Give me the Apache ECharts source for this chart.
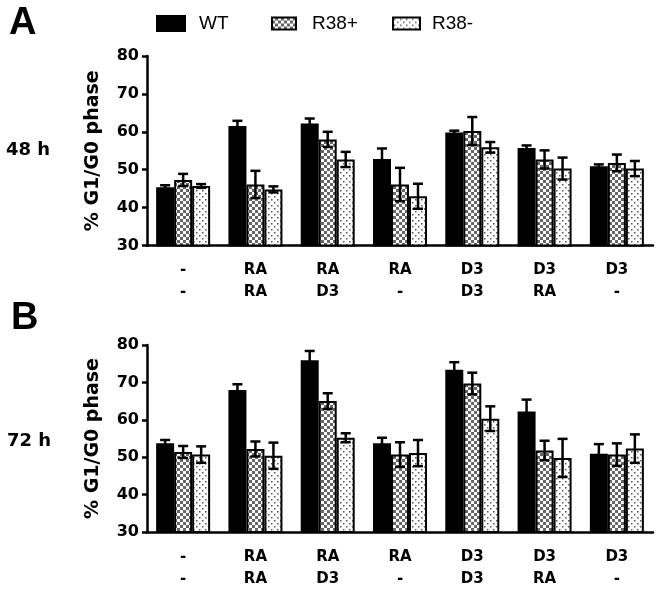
<!DOCTYPE html>
<html><head><meta charset="utf-8">
<script src="https://cdn.jsdelivr.net/npm/echarts@6/dist/echarts.min.js"></script>
<style>html,body{margin:0;padding:0;background:#fff}#c{width:662px;height:590px}</style>
</head><body><div id="c"></div>
<script>
// ---- data ----
const seriesNames = ['WT', 'R38+', 'R38-'];
const catTop = ['-', 'RA', 'RA', 'RA', 'D3', 'D3', 'D3'];
const catBottom = ['-', 'RA', 'D3', '-', 'D3', 'RA', '-'];
const yTicks = [30, 40, 50, 60, 70, 80];

const wt48 = [45.4, 61.5, 62.2, 52.8, 59.8, 55.7, 50.9];
const wt48Err = [0.5, 1.4, 1.3, 2.8, 0.5, 0.7, 0.5];
const p48 = [47.3, 46.1, 58.0, 46.1, 60.2, 52.7, 51.8];
const p48Err = [1.6, 3.6, 2.0, 4.4, 3.7, 2.4, 2.2];
const m48 = [45.7, 44.8, 52.7, 43.0, 55.9, 50.3, 50.3];
const m48Err = [0.5, 0.8, 2.0, 3.3, 1.4, 2.9, 2.0];

const wt72 = [53.7, 68.0, 75.9, 53.7, 73.4, 62.2, 50.9];
const wt72Err = [0.9, 1.5, 2.5, 1.5, 2.0, 3.2, 2.6];
const p72 = [51.4, 52.2, 65.0, 50.7, 69.7, 51.8, 50.7];
const p72Err = [1.6, 2.0, 2.1, 3.3, 2.9, 2.6, 3.0];
const m72 = [50.7, 50.4, 55.2, 51.1, 60.3, 49.8, 52.3];
const m72Err = [2.2, 3.5, 1.2, 3.5, 3.3, 5.1, 3.8];

// ---- patterns ----
function checkerCanvas() {
  const c = document.createElement('canvas'); c.width = 6; c.height = 6;
  const g = c.getContext('2d');
  g.fillStyle = '#666666'; g.fillRect(0, 0, 6, 6);
  g.fillStyle = '#ffffff'; g.fillRect(0, 0, 3, 3); g.fillRect(3, 3, 3, 3);
  return c;
}
function dotCanvas() {
  const c = document.createElement('canvas'); c.width = 6; c.height = 6;
  const g = c.getContext('2d');
  g.fillStyle = '#ffffff'; g.fillRect(0, 0, 6, 6);
  g.fillStyle = '#555555';
  g.fillRect(1, 1, 1.5, 1.5); g.fillRect(4, 4, 1.5, 1.5);
  return c;
}
const fills = ['#000000', {image: checkerCanvas(), repeat: 'repeat'}, {image: dotCanvas(), repeat: 'repeat'}];

const BW = 18;
const offsets = [-BW, 0, BW];
const catLabels = catTop.map((t, i) => t + '\n' + catBottom[i]);

const grids = [
  {left: 147, right: 9, top: 56, height: 189.5},
  {left: 147, right: 9, top: 345, height: 190.5}
];
const panels = [
  [[wt48, wt48Err], [p48, p48Err], [m48, m48Err]],
  [[wt72, wt72Err], [p72, p72Err], [m72, m72Err]]
];

const tickFont = {fontFamily: 'DejaVu Sans', fontWeight: 'bold', fontSize: 16, color: '#000'};

const xAxes = grids.map((g, gi) => ({
  type: 'category', gridIndex: gi, data: catLabels,
  axisLine: {lineStyle: {color: '#000', width: 2.5}},
  axisTick: {alignWithLabel: true, length: 6, lineStyle: {color: '#000', width: 2.5}},
  axisLabel: {interval: 0, margin: 14, lineHeight: 22, fontSize: 15, fontFamily: 'DejaVu Sans', fontWeight: 'bold', color: '#000'}
}));
const yAxes = grids.map((g, gi) => ({
  type: 'value', gridIndex: gi, min: yTicks[0], max: yTicks[yTicks.length - 1], interval: 10,
  name: '% G1/G0 phase', nameLocation: 'middle', nameGap: 44,
  nameTextStyle: {fontFamily: 'DejaVu Sans', fontWeight: 'bold', fontSize: 19, color: '#000'},
  axisLine: {show: true, lineStyle: {color: '#000', width: 2.5}},
  axisTick: {show: true, length: 5, lineStyle: {color: '#000', width: 2.5}},
  splitLine: {show: false},
  axisLabel: Object.assign({margin: 8}, tickFont)
}));

const series = [];
panels.forEach((panel, gi) => {
  panel.forEach(([vals, errs], si) => {
    series.push({
      type: 'bar', name: seriesNames[si], xAxisIndex: gi, yAxisIndex: gi,
      data: vals, barWidth: BW, barGap: '0%',
      itemStyle: {color: fills[si], borderColor: '#000', borderWidth: 2},
      emphasis: {disabled: true}, animation: false
    });
  });
  panel.forEach(([vals, errs], si) => {
    series.push({
      type: 'custom', xAxisIndex: gi, yAxisIndex: gi, z: 5, animation: false,
      data: vals.map((v, i) => [i, v, errs[i]]),
      encode: {x: 0, y: 1},
      renderItem: function (params, api) {
        const i = api.value(0), v = api.value(1), e = api.value(2);
        const top = api.coord([i, v + e]);
        const bot = api.coord([i, v - e]);
        const x = top[0] + offsets[si];
        const st = {stroke: '#000', lineWidth: 2.5};
        return {type: 'group', children: [
          {type: 'line', shape: {x1: x, y1: top[1], x2: x, y2: bot[1]}, style: st},
          {type: 'line', shape: {x1: x - 5, y1: top[1], x2: x + 5, y2: top[1]}, style: st},
          {type: 'line', shape: {x1: x - 5, y1: bot[1], x2: x + 5, y2: bot[1]}, style: st}
        ]};
      }
    });
  });
});

const legendBase = {
  orient: 'horizontal', top: 14, padding: 0, icon: 'rect', selectedMode: false,
  itemStyle: {borderColor: '#000', borderWidth: 2},
  textStyle: {fontFamily: 'Liberation Sans', fontSize: 19, color: '#000'}
};
const legends = [
  Object.assign({}, legendBase, {data: ['WT'], left: 156, itemWidth: 28, itemHeight: 15,
    textStyle: Object.assign({}, legendBase.textStyle, {padding: [0, 0, 0, 9]})}),
  Object.assign({}, legendBase, {data: ['R38+'], left: 271, itemWidth: 24, itemHeight: 12,
    textStyle: Object.assign({}, legendBase.textStyle, {padding: [0, 0, 0, 11]})}),
  Object.assign({}, legendBase, {data: ['R38-'], left: 392, itemWidth: 27, itemHeight: 12,
    textStyle: Object.assign({}, legendBase.textStyle, {padding: [0, 0, 0, 7]})})
];

const bigFont = {fontFamily: 'Liberation Sans', fontWeight: 'bold', fontSize: 38, fill: '#000'};
const sideFont = {fontFamily: 'DejaVu Sans', fontWeight: 'bold', fontSize: 18, fill: '#000'};
const graphic = [
  {type: 'text', left: 9, top: 5, style: Object.assign({text: 'A'}, bigFont)},
  {type: 'text', left: 11, top: 300, style: Object.assign({text: 'B'}, bigFont)},
  {type: 'text', left: 6, top: 141, style: Object.assign({text: '48 h'}, sideFont)},
  {type: 'text', left: 7, top: 432, style: Object.assign({text: '72 h'}, sideFont)}
];

const chart = echarts.init(document.getElementById('c'), null, {renderer: 'canvas'});
chart.setOption({
  animation: false,
  grid: grids,
  xAxis: xAxes,
  yAxis: yAxes,
  legend: legends,
  graphic: graphic,
  series: series
});
</script></body></html>
